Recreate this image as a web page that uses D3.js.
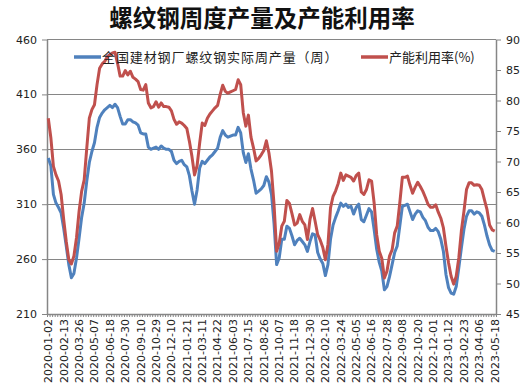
<!DOCTYPE html>
<html><head><meta charset="utf-8">
<script src="https://cdn.jsdelivr.net/npm/d3@7"></script>
<style>
html,body{margin:0;padding:0;background:#fff;}
svg{display:block;}
</style></head>
<body><svg id="c" width="530" height="391"></svg>
<script>
const title = "螺纹钢周度产量及产能利用率";
const seriesNames = ["全国建材钢厂螺纹钢实际周产量（周）", "产能利用率(%)"];
const startDate = "2020-01-02";
const skippedWeeks = ["2020-10-01", "2021-02-11"];
const nCategories = 175;
const xTickLabels = ["2020-01-02","2020-02-13","2020-03-26","2020-05-07","2020-06-18","2020-07-30","2020-09-10","2020-10-29","2020-12-10","2021-01-21","2021-03-11","2021-04-22","2021-06-03","2021-07-15","2021-08-26","2021-10-07","2021-11-18","2021-12-30","2022-02-10","2022-03-24","2022-05-05","2022-06-16","2022-07-28","2022-09-08","2022-10-20","2022-12-01","2023-01-12","2023-02-23","2023-04-06","2023-05-18"];
const leftTicks = [210, 260, 310, 360, 410, 460];
const rightTicks = [45, 50, 55, 60, 65, 70, 75, 80, 85, 90];

const output = [352,345,319,311,307,302,288,272,255,243,247,261,279,298,311,331,348,358,366,380,
389,393,396,398,400,398,401,398,390,383,383,387,387,385,384,382,375,374,374,362,
360,361,362,360,363,361,360,360,358,350,347,349,350,346,344,336,322,310,323,343,
349,347,350,353,355,358,361,371,377,373,371,372,373,373,380,375,357,348,356,342,
332,320,322,324,327,335,330,319,292,255,261,278,278,290,288,281,273,277,279,276,
273,267,276,283,282,266,260,256,245,255,278,291,298,304,311,308,310,307,308,301,
307,310,296,294,300,306,303,287,269,257,249,232,235,244,255,266,272,290,308,309,
310,303,296,301,304,303,298,295,289,286,286,288,285,278,267,246,234,229,228,235,
252,270,287,299,304,304,301,303,302,299,291,281,273,268,267];

const utilization = [77.1,73.9,69.2,67.8,66.8,64.6,60.5,56.9,53.9,53.2,54.5,57.5,61.8,65.1,67.0,72.2,77.1,78.5,79.3,82.6,
85.3,86.0,86.4,87.2,87.5,87.8,87.9,86.1,84.0,84.0,84.9,84.2,84.8,83.8,83.5,83.1,81.8,81.7,82.6,79.6,
78.8,79.0,79.8,78.9,79.6,79.0,79.0,78.9,78.3,76.9,76.1,76.5,76.3,75.9,75.4,73.3,70.8,67.8,69.3,73.0,
76.3,75.9,77.1,77.8,78.3,78.8,79.2,81.0,82.5,81.5,81.2,81.4,81.6,81.8,83.4,82.6,78.0,75.8,77.6,74.0,
72.2,70.1,70.5,71.1,71.8,73.4,71.4,68.4,62.9,55.3,56.6,59.4,60.2,63.6,63.1,61.4,59.6,59.9,61.3,60.2,
59.6,57.2,60.5,62.3,60.2,58.0,57.1,55.9,53.9,56.4,62.4,64.3,65.2,66.4,68.1,66.9,67.8,67.6,67.4,66.8,
67.7,68.1,65.0,64.6,65.4,67.0,66.8,63.2,58.0,55.3,54.1,50.9,52.0,54.5,55.5,58.3,59.4,63.2,67.4,67.4,
67.6,66.1,64.8,65.8,66.6,65.9,65.1,64.1,63.0,62.5,62.5,62.9,61.7,60.7,59.1,56.1,53.4,51.2,49.9,51.2,
54.2,58.6,61.8,65.4,66.5,66.5,66.1,66.2,66.1,65.4,63.7,62.1,59.6,58.8,58.6];

// weekly category dates (Thursdays), holiday weeks absent
const fmt = d3.utcFormat("%Y-%m-%d");
const categories = [];
{
  let d = new Date(startDate + "T00:00:00Z");
  while (categories.length < nCategories) {
    const s = fmt(d);
    if (!skippedWeeks.includes(s)) categories.push(s);
    d = d3.utcDay.offset(d, 7);
  }
}

const L = 47, R = 496, T = 39.5, B = 314;
const svg = d3.select("#c");
const gridColor = "#868686";
const textColor = "#222";

const x = d3.scaleBand().domain(categories).range([L, R]).paddingInner(0).paddingOuter(0);
const xIdx = d3.scaleLinear().domain([0, nCategories]).range([L, R]);
const yL = d3.scaleLinear().domain([210, 460]).range([B, T]);
const yR = d3.scaleLinear().domain([45, 90]).range([B, T]);

// title
svg.append("text").attr("x", 262).attr("y", 27).attr("text-anchor", "middle")
  .attr("font-family", "'Noto Sans CJK SC', sans-serif").attr("font-weight", "bold")
  .attr("font-size", 23.5).attr("fill", "#111").text(title);

// gridlines
svg.append("g").selectAll("line").data(leftTicks.filter(v => v > 210)).join("line")
  .attr("x1", L).attr("x2", R).attr("y1", d => yL(d)).attr("y2", d => yL(d))
  .attr("stroke", gridColor).attr("stroke-width", 1.2).attr("shape-rendering", "crispEdges");

// left axis
const gl = svg.append("g").attr("transform", `translate(${L},0)`)
  .call(d3.axisLeft(yL).tickValues(leftTicks).tickSizeInner(5).tickSizeOuter(0).tickPadding(5));
gl.select(".domain").attr("stroke", gridColor).attr("stroke-width", 1.5);
gl.selectAll(".tick line").attr("stroke", gridColor);
gl.selectAll("text").attr("font-family", "'DejaVu Sans', sans-serif").attr("font-size", 11).attr("fill", textColor);

// right axis
const gr = svg.append("g").attr("transform", `translate(${R},0)`)
  .call(d3.axisRight(yR).tickValues(rightTicks).tickSizeInner(5).tickSizeOuter(0).tickPadding(5));
gr.select(".domain").attr("stroke", gridColor).attr("stroke-width", 1.5);
gr.selectAll(".tick line").attr("stroke", gridColor);
gr.selectAll("text").attr("font-family", "'DejaVu Sans', sans-serif").attr("font-size", 11).attr("fill", textColor);

// bottom minor ticks (one per category boundary)
const gb = svg.append("g").attr("transform", `translate(0,${B})`)
  .call(d3.axisBottom(xIdx).tickValues(d3.range(nCategories + 1)).tickFormat("").tickSizeInner(3).tickSizeOuter(0));
gb.select(".domain").attr("stroke", gridColor).attr("stroke-width", 1.5);
gb.selectAll(".tick line").attr("stroke", gridColor);

// bottom labels
const gx = svg.append("g").attr("transform", `translate(0,${B})`)
  .call(d3.axisBottom(x).tickValues(xTickLabels).tickSize(0).tickPadding(0));
gx.select(".domain").remove();
gx.selectAll("text")
  .attr("font-family", "'DejaVu Sans', sans-serif").attr("font-size", 11).attr("fill", textColor)
  .attr("text-anchor", "end").attr("dy", "0.35em")
  .attr("transform", "translate(0,5) rotate(-90)").attr("x", 0).attr("y", 0);

// lines
const cx = d => x(d) + x.bandwidth() / 2;
const lineL = d3.line().x((d, i) => cx(categories[i])).y(d => yL(d));
const lineR = d3.line().x((d, i) => cx(categories[i])).y(d => yR(d));
const colors = ["#4F81BD", "#C0504D"];
svg.append("path").datum(output).attr("d", lineL).attr("fill", "none")
  .attr("stroke", colors[0]).attr("stroke-width", 3).attr("stroke-linejoin", "round");
svg.append("path").datum(utilization).attr("d", lineR).attr("fill", "none")
  .attr("stroke", colors[1]).attr("stroke-width", 3).attr("stroke-linejoin", "round");

// legend
const legend = [
  {name: seriesNames[0], color: colors[0], x1: 74, x2: 101, ls: 0.9},
  {name: seriesNames[1], color: colors[1], x1: 361, x2: 388, ls: 0}
];
const lg = svg.append("g");
legend.forEach(l => {
  lg.append("line").attr("x1", l.x1).attr("x2", l.x2).attr("y1", 57).attr("y2", 57)
    .attr("stroke", l.color).attr("stroke-width", 3.5);
  lg.append("text").attr("x", l.x2 + 1).attr("y", 62)
    .attr("font-family", "'Noto Sans CJK SC', sans-serif").attr("font-size", 13)
    .attr("letter-spacing", l.ls)
    .attr("fill", textColor).text(l.name);
});
</script>
</body></html>
